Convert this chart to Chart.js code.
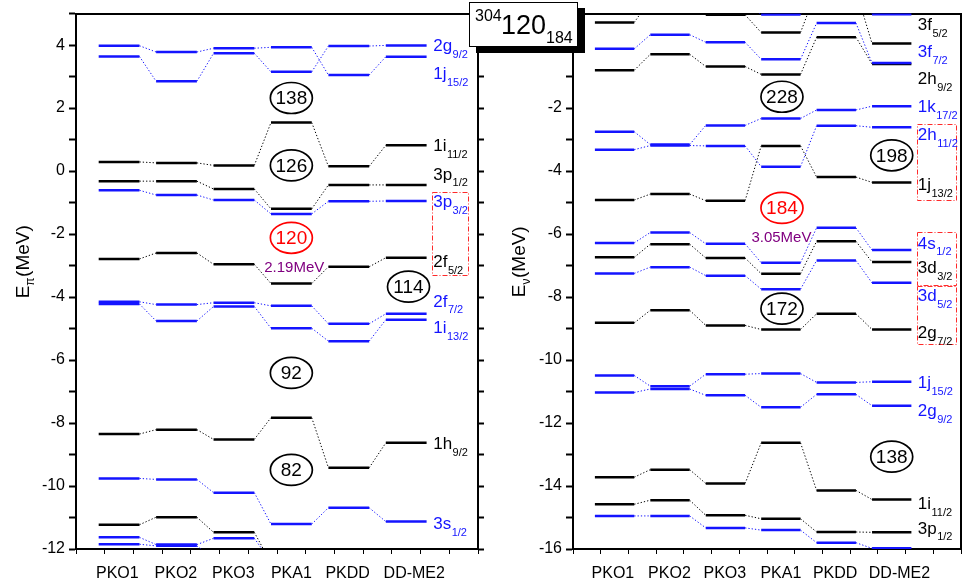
<!DOCTYPE html>
<html>
<head>
<meta charset="utf-8">
<script src="https://cdn.jsdelivr.net/npm/chart.js@4.4.0/dist/chart.umd.min.js"></script>
<style>
html,body{margin:0;padding:0;background:#fff;width:971px;height:585px;overflow:hidden;font-family:"Liberation Sans",Arial,Helvetica,sans-serif;}
#wl{position:absolute;left:0;top:0;width:490px;height:585px;}
#wr{position:absolute;left:490px;top:0;width:481px;height:585px;}
#tbox{position:absolute;left:469px;top:2px;width:107px;height:43px;border:1px solid #000;background:#fff;box-shadow:7px 6px 0 #000;z-index:5;color:#000;}
#tbox span{position:absolute;white-space:nowrap;line-height:1;}
#tbox .s1{left:5px;top:5px;font-size:16px;}
#tbox .s2{left:31px;top:9px;font-size:27px;}
#tbox .s3{left:76px;top:27px;font-size:16px;}
</style>
</head>
<body>
<div id="wl"><canvas id="cl"></canvas></div>
<div id="wr"><canvas id="cr"></canvas></div>
<div id="tbox"><span class="s1">304</span><span class="s2">120</span><span class="s3">184</span></div>
<script>
// ---------------- data ----------------
const models = ['PKO1', 'PKO2', 'PKO3', 'PKA1', 'PKDD', 'DD-ME2'];

// proton single-particle levels (MeV), one value per model
const pBlueTopA = [3.98, 3.78, 3.90, 3.93, 3.05, 3.63];
const pBlueTopB = [3.64, 2.85, 3.74, 3.15, 3.97, 3.99];
const p1i11 = [0.29, 0.26, 0.18, 1.54, 0.15, 0.82];
const p3p1 = [-0.32, -0.32, -0.57, -1.20, -0.44, -0.44];
const p3p3 = [-0.61, -0.76, -0.92, -1.36, -0.96, -0.95];
const p2f5 = [-2.79, -2.60, -2.96, -3.57, -3.04, -2.75];
const p2f7 = [-4.15, -4.24, -4.18, -4.28, -4.85, -4.53];
const p1i13 = [-4.22, -4.76, -4.30, -4.99, -5.40, -4.72];
const p1h9 = [-8.35, -8.21, -8.52, -7.83, -9.42, -8.63];
const p3s1 = [-9.76, -9.79, -10.21, -11.21, -10.69, -11.13];
const pBlackLow = [-11.23, -10.99, -11.47, -12.45, -12.9, -12.7];
const pBlueLowA = [-11.63, -11.86, -11.66, -12.4, -12.8, -12.9];
const pBlueLowB = [-11.85, -11.90, -12.3, -12.9, -13.0, -13.0];

// neutron single-particle levels (MeV)
const nBlueTop = [1.6, 1.5, 1.3, 0.97, 1.6, 0.98];
const n3f5 = [0.72, 1.45, 0.96, 0.40, 1.75, 0.05];
const n3f7 = [-0.12, 0.33, 0.09, -0.45, 0.70, -0.57];
const n2h9 = [-0.80, -0.29, -0.68, -0.93, 0.25, -0.60];
const n1k17 = [-2.75, -3.16, -2.55, -2.33, -2.06, -1.94];
const n2h11 = [-3.32, -3.19, -3.20, -3.86, -2.56, -2.61];
const n1j13 = [-4.92, -4.73, -4.94, -3.20, -4.19, -4.36];
const n4s1 = [-6.28, -5.95, -6.31, -6.91, -5.80, -6.51];
const n3d3 = [-6.74, -6.32, -6.76, -7.26, -6.23, -6.89];
const n3d5 = [-7.25, -7.05, -7.32, -7.75, -6.84, -7.55];
const n2g7 = [-8.82, -8.42, -8.90, -9.03, -8.53, -9.03];
const n1j15 = [-10.49, -10.83, -10.45, -10.43, -10.71, -10.69];
const n2g9 = [-11.03, -10.92, -11.12, -11.50, -11.09, -11.45];
const n1i11 = [-13.72, -13.48, -13.92, -12.63, -14.14, -14.43];
const n3p1 = [-14.58, -14.45, -14.93, -15.04, -15.46, -15.47];
const nBlueLow = [-14.95, -14.95, -15.33, -15.40, -15.80, -15.98];

// level labels: [main, subscript, colour key, energy]
const pLabels = [
  ['2g', '9/2', 'b', 3.99], ['1j', '15/2', 'b', 3.10], ['1i', '11/2', 'k', 0.82],
  ['3p', '1/2', 'k', -0.08], ['3p', '3/2', 'b', -0.95], ['2f', '5/2', 'k', -2.85],
  ['2f', '7/2', 'b', -4.11], ['1i', '13/2', 'b', -4.96], ['1h', '9/2', 'k', -8.63],
  ['3s', '1/2', 'b', -11.17]
];
const nLabels = [
  ['3f', '5/2', 'k', 0.66], ['3f', '7/2', 'b', -0.20], ['2h', '9/2', 'k', -1.05],
  ['1k', '17/2', 'b', -1.94], ['2h', '11/2', 'b', -2.82], ['1j', '13/2', 'k', -4.41],
  ['4s', '1/2', 'b', -6.27], ['3d', '3/2', 'k', -7.06], ['3d', '5/2', 'b', -7.95],
  ['2g', '7/2', 'k', -9.12], ['1j', '15/2', 'b', -10.70], ['2g', '9/2', 'b', -11.59],
  ['1i', '11/2', 'k', -14.53], ['3p', '1/2', 'k', -15.32]
];
// shell gaps: [text, model position, energy, colour key]
const pGaps = [['138', 4.0, 2.32, 'k'], ['126', 4.0, 0.18, 'k'], ['120', 4.0, -2.12, 'r'],
               ['114', 6.04, -3.67, 'k'], ['92', 4.0, -6.41, 'k'], ['82', 4.0, -9.49, 'k']];
const nGaps = [['228', 4.02, -1.64, 'k'], ['198', 6.0, -3.50, 'k'], ['184', 4.02, -5.17, 'r'],
               ['172', 4.02, -8.37, 'k'], ['138', 6.0, -13.07, 'k']];
const pGapNote = ['2.19MeV', 4.05, -3.03];
const nGapNote = ['3.05MeV', 4.01, -6.10];
// dash-dot boxes: [x0, x1, yTop, yBottom]
const pBoxes = [[6.45, 7.08, -0.66, -3.29]];
const nBoxes = [[6.46, 7.16, -2.51, -4.91], [6.46, 7.16, -5.92, -7.60], [6.46, 7.16, -7.66, -9.50]];

// ---------------- drawing ----------------
const FF = "'Liberation Sans', Arial, Helvetica, sans-serif";
Chart.defaults.font.family = FF;
Chart.defaults.font.size = 16;
Chart.defaults.color = '#000';
const COL = {b: '#1414ff', k: '#000000', r: '#ff0000'};
const HW = 0.355;
const labelShift = [-0.03, -0.01, -0.01, 0, -0.02, 0.14];   // category label nudges (layout)

function buildDatasets(levels) {
  const common = {type: 'line', pointRadius: 0, pointHoverRadius: 0, spanGaps: false,
                  fill: false, tension: 0, borderCapStyle: 'butt'};
  const ds = [];
  levels.forEach(([vals, c]) => {
    const seg = [], con = [];
    vals.forEach((v, i) => {
      seg.push({x: i + 1 - HW, y: v}, {x: i + 1 + HW, y: v}, {x: i + 1 + HW, y: null});
      if (i < vals.length - 1) {
        con.push({x: i + 1 + HW, y: v}, {x: i + 2 - HW, y: vals[i + 1]}, {x: i + 2 - HW, y: null});
      }
    });
    ds.push(Object.assign({data: con, borderColor: COL[c], borderWidth: 1, borderDash: [1.3, 2]}, common));
    ds.push(Object.assign({data: seg, borderColor: COL[c], borderWidth: 2.5}, common));
  });
  return ds;
}

function annotPlugin(spec) {
  return {
    id: 'annot',
    afterDatasetsDraw(chart) {
      const ctx = chart.ctx, x = chart.scales.x, y = chart.scales.y;
      ctx.save();
      // dash-dot boxes
      ctx.strokeStyle = '#ff2a2a'; ctx.lineWidth = 1; ctx.setLineDash([5, 2, 1, 2]);
      spec.boxes.forEach(b => {
        const x0 = x.getPixelForValue(b[0]), x1 = x.getPixelForValue(b[1]);
        const y0 = y.getPixelForValue(b[2]), y1 = y.getPixelForValue(b[3]);
        ctx.strokeRect(Math.round(x0) + 0.5, Math.round(y0) + 0.5, Math.round(x1 - x0), Math.round(y1 - y0));
      });
      ctx.setLineDash([]);
      // level labels
      spec.labels.forEach(l => {
        const px = x.getPixelForValue(6.47), py = y.getPixelForValue(l[3]);
        ctx.fillStyle = COL[l[2]]; ctx.textAlign = 'left'; ctx.textBaseline = 'alphabetic';
        ctx.font = '17px ' + FF;
        ctx.fillText(l[0], px, py + 6);
        const w = ctx.measureText(l[0]).width;
        ctx.font = '11px ' + FF;
        ctx.fillText(l[1], px + w + 0.5, py + 12.8);
      });
      // gap ellipses
      spec.gaps.forEach(g => {
        const cx = x.getPixelForValue(g[1]), cy = y.getPixelForValue(g[2]);
        ctx.beginPath(); ctx.ellipse(cx, cy, 21, 15.5, 0, 0, 2 * Math.PI);
        ctx.lineWidth = 1.7; ctx.strokeStyle = COL[g[3]]; ctx.stroke();
        ctx.fillStyle = COL[g[3]]; ctx.font = '19px ' + FF;
        ctx.textAlign = 'center'; ctx.textBaseline = 'middle';
        ctx.fillText(g[0], cx, cy + 1);
      });
      // gap size note
      ctx.fillStyle = '#800080'; ctx.font = '15px ' + FF; ctx.textAlign = 'center'; ctx.textBaseline = 'middle';
      ctx.fillText(spec.note[0], x.getPixelForValue(spec.note[1]), y.getPixelForValue(spec.note[2]) + 1);
      // axis title
      ctx.translate(spec.titleX, spec.titleY); ctx.rotate(-Math.PI / 2);
      ctx.fillStyle = '#000'; ctx.textBaseline = 'alphabetic'; ctx.textAlign = 'left';
      ctx.font = '19px ' + FF; const wE = ctx.measureText('E').width; const wR = ctx.measureText('(MeV)').width;
      ctx.font = '12px ' + FF; const wS = ctx.measureText(spec.sub).width;
      let x0 = -(wE + wS + wR) / 2;
      ctx.font = '19px ' + FF; ctx.fillText('E', x0, 0);
      ctx.font = '12px ' + FF; ctx.fillText(spec.sub, x0 + wE, 5);
      ctx.font = '19px ' + FF; ctx.fillText('(MeV)', x0 + wE + wS + 0.5, 0);
      ctx.restore();
    }
  };
}

function isMinorMark(v) {
  const q = v * 4;
  return Math.abs(q - Math.round(q)) < 1e-6 && Math.round(q) % 2 === 1;
}

function makeChart(id, levels, yMin, yMax, lay, spec) {
  const xTicks = s => {
    const t = [];
    for (let k = 1; k <= 29; k++) if (k % 2 === 1) t.push({value: k * 0.25});
    models.forEach((m, i) => t.push({value: i + 1 + labelShift[i]}));
    t.sort((a, b) => a.value - b.value);
    s.ticks = t;
  };
  const xLabel = v => {
    if (isMinorMark(v)) return '';
    const i = models.findIndex((m, j) => Math.abs(j + 1 + labelShift[j] - v) < 1e-6);
    return i >= 0 ? models[i] : '';
  };
  const yTicks = s => { s.ticks = []; for (let v = yMin; v <= yMax; v++) s.ticks.push({value: v}); };
  return new Chart(document.getElementById(id), {
    type: 'line',
    data: {datasets: buildDatasets(levels)},
    options: {
      responsive: true, maintainAspectRatio: false, animation: false, devicePixelRatio: 1,
      layout: {padding: 0},
      plugins: {legend: {display: false}, tooltip: {enabled: false}},
      events: [],
      scales: {
        x: {type: 'linear', position: 'bottom', min: 0.25, max: 7.25, afterBuildTicks: xTicks,
            ticks: {autoSkip: false, maxRotation: 0, minRotation: 0, padding: 10, font: {size: 16},
                    callback: v => xLabel(v)},
            grid: {drawOnChartArea: false, tickLength: 5, tickWidth: 1,
                   tickColor: c => (c.tick && isMinorMark(c.tick.value)) ? '#000' : 'rgba(0,0,0,0)'},
            border: {display: true, color: '#000', width: 2},
            afterFit: s => { s.height = 36; }},
        x2: {type: 'linear', position: 'top', min: 0.25, max: 7.25,
             ticks: {display: false}, grid: {drawOnChartArea: false, drawTicks: false},
             border: {display: true, color: '#000', width: 2},
             afterFit: s => { s.height = 12; }},
        y: {type: 'linear', position: 'left', min: yMin, max: yMax, afterBuildTicks: yTicks,
            ticks: {autoSkip: false, padding: 4, font: {size: 16}, callback: v => (v % 2 === 0) ? String(v) : ''},
            grid: {drawOnChartArea: false, tickLength: 7, tickWidth: 2, color: '#000'},
            border: {display: true, color: '#000', width: 2},
            afterFit: s => { s.width = lay.yw; }},
        y2: {type: 'linear', position: 'right', min: yMin, max: yMax, afterBuildTicks: yTicks,
             ticks: {display: false},
             grid: {drawOnChartArea: false, drawTicks: lay.y2ticks, tickLength: 6, tickWidth: 2, color: '#000'},
             border: {display: true, color: '#000', width: 2},
             afterFit: s => { s.width = lay.y2w; }}
      }
    },
    plugins: [annotPlugin(spec)]
  });
}

const protonLevels = [
  [pBlueTopA, 'b'], [pBlueTopB, 'b'], [p1i11, 'k'], [p3p1, 'k'], [p3p3, 'b'], [p2f5, 'k'],
  [p2f7, 'b'], [p1i13, 'b'], [p1h9, 'k'], [p3s1, 'b'], [pBlackLow, 'k'], [pBlueLowA, 'b'], [pBlueLowB, 'b']
];
const neutronLevels = [
  [nBlueTop, 'b'], [n3f5, 'k'], [n3f7, 'b'], [n2h9, 'k'], [n1k17, 'b'], [n2h11, 'b'], [n1j13, 'k'],
  [n4s1, 'b'], [n3d3, 'k'], [n3d5, 'b'], [n2g7, 'k'], [n1j15, 'b'], [n2g9, 'b'],
  [n1i11, 'k'], [n3p1, 'k'], [nBlueLow, 'b']
];

makeChart('cl', protonLevels, -12, 5, {yw: 76, y2w: 12, y2ticks: true},
  {boxes: pBoxes, labels: pLabels, gaps: pGaps, note: pGapNote, sub: 'π', titleX: 29, titleY: 262});
makeChart('cr', neutronLevels, -16, 1, {yw: 83, y2w: 1, y2ticks: false},
  {boxes: nBoxes, labels: nLabels, gaps: nGaps, note: nGapNote, sub: 'ν', titleX: 35, titleY: 262});
</script>
</body>
</html>
